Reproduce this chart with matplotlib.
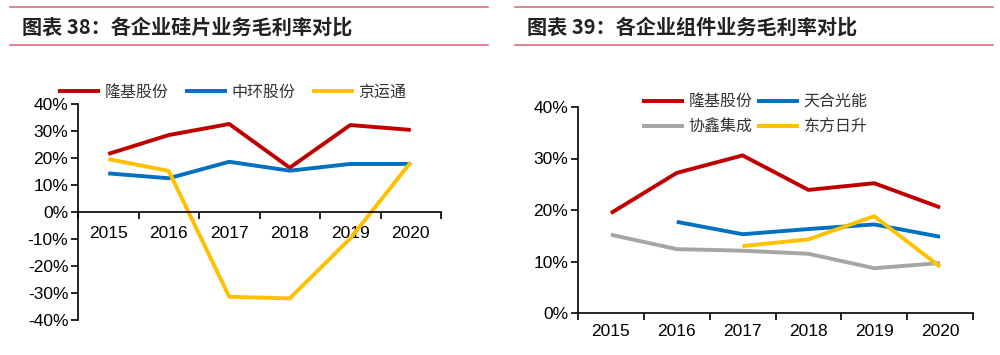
import matplotlib
matplotlib.use("Agg")
import matplotlib.pyplot as plt
from matplotlib.lines import Line2D
import numpy as np

plt.rcParams['font.family'] = ['Liberation Sans', 'Noto Sans CJK SC', 'DejaVu Sans']

years = ['2015', '2016', '2017', '2018', '2019', '2020']

# Chart 38: wafer gross margin (%)
wafer_names = ['隆基股份', '中环股份', '京运通']
wafer_longi = [21.5, 28.5, 32.6, 16.4, 32.2, 30.4]
wafer_tzs = [14.3, 12.5, 18.6, 15.3, 17.8, 17.8]
wafer_jyt = [19.6, 15.2, -31.4, -32.0, -9.8, 18.4]

# Chart 39: module gross margin (%)
module_names = ['隆基股份', '天合光能', '协鑫集成', '东方日升']
module_longi = [19.4, 27.2, 30.6, 23.9, 25.2, 20.5]
module_trina = [None, 17.7, 15.3, 16.3, 17.2, 14.8]
module_gcl = [15.2, 12.4, 12.1, 11.5, 8.7, 9.7]
module_risen = [None, None, 13.0, 14.3, 18.8, 9.0]

RED = '#C00000'
BLUE = '#0070C0'
YELLOW = '#FFC000'
GRAY = '#A5A5A5'
PINK = '#D9707F'
CJK = ['Noto Sans CJK SC', 'DejaVu Sans']
LW = 2.8

fig = plt.figure(figsize=(10, 3.55), dpi=100)

def frac_x(px):
    return px / 1000.0

def frac_y(py):
    return 1 - py / 355.0

def header(x0, x1, tx, title):
    for py in (7, 45):
        fig.add_artist(Line2D([frac_x(x0), frac_x(x1)], [frac_y(py), frac_y(py)],
                              color=PINK, lw=1.2, transform=fig.transFigure))
    fig.text(frac_x(tx), frac_y(27), title, fontsize=14.5, fontweight='bold',
             family=CJK, color='#222222', va='center', ha='left', style='italic')

def to_arr(vals):
    return np.array([np.nan if v is None else v for v in vals], dtype=float)

def style_axes(ax, ylo, yhi, step):
    x = np.arange(len(years))
    ax.set_xlim(-0.5, len(years) - 0.5)
    ax.set_ylim(ylo, yhi)
    ax.set_yticks(np.arange(ylo, yhi + 0.1, step))
    ax.set_yticklabels([f'{int(v)}%' for v in np.arange(ylo, yhi + 0.1, step)])
    ax.set_xticks(np.arange(-0.5, len(years), 1.0))
    ax.set_xticklabels([])
    ax.set_xticks(x, minor=True)
    ax.set_xticklabels(years, minor=True)
    ax.tick_params(axis='x', which='major', direction='out', length=5, width=1.2, color='black')
    ax.tick_params(axis='x', which='minor', length=0, labelsize=12.5, pad=8)
    ax.tick_params(axis='y', direction='out', length=5, width=1.2, labelsize=12.5, pad=2)
    for s in ('top', 'right'):
        ax.spines[s].set_visible(False)
    for s in ('left', 'bottom'):
        ax.spines[s].set_linewidth(1.2)
    ax.patch.set_alpha(0)

# ---------- left chart ----------
header(10, 488, 22, '图表 38：各企业硅片业务毛利率对比')
axL = fig.add_axes([frac_x(78), frac_y(320), frac_x(441 - 78), (320 - 104) / 355.0])
xs = np.arange(len(years))
l1, = axL.plot(xs, wafer_longi, color=RED, lw=LW, solid_capstyle='butt')
l2, = axL.plot(xs, wafer_tzs, color=BLUE, lw=LW, solid_capstyle='butt')
l3, = axL.plot(xs, wafer_jyt, color=YELLOW, lw=LW, solid_capstyle='butt')
style_axes(axL, -40, 40, 10)
axL.spines['bottom'].set_position(('data', 0))
axL.tick_params(axis='x', which='minor', pad=10)
fig.legend([l1, l2, l3], wafer_names, loc='center left',
           bbox_to_anchor=(frac_x(58), frac_y(92)), ncol=3, frameon=False,
           prop={'family': CJK, 'size': 11.5}, handlelength=2.6, handletextpad=0.3,
           columnspacing=1.05, borderpad=0, borderaxespad=0, labelcolor='#333333')

# ---------- right chart ----------
header(515, 993, 527, '图表 39：各企业组件业务毛利率对比')
axR = fig.add_axes([frac_x(578), frac_y(313), frac_x(973 - 578), (313 - 107) / 355.0])
r1, = axR.plot(xs, module_longi, color=RED, lw=LW, solid_capstyle='butt')
r2, = axR.plot(xs, to_arr(module_trina), color=BLUE, lw=LW, solid_capstyle='butt')
r3, = axR.plot(xs, module_gcl, color=GRAY, lw=LW, solid_capstyle='butt')
r4, = axR.plot(xs, to_arr(module_risen), color=YELLOW, lw=LW, solid_capstyle='butt')
style_axes(axR, 0, 40, 10)
fig.legend([r1, r3, r2, r4], [module_names[0], module_names[2], module_names[1], module_names[3]],
           loc='center left', bbox_to_anchor=(frac_x(642), frac_y(114.5)), ncol=2,
           frameon=False, prop={'family': CJK, 'size': 11.5}, handlelength=2.6,
           handletextpad=0.3, columnspacing=0.3, labelspacing=0.55, borderpad=0,
           borderaxespad=0, labelcolor='#333333')

fig.savefig('out.png', dpi=100)
